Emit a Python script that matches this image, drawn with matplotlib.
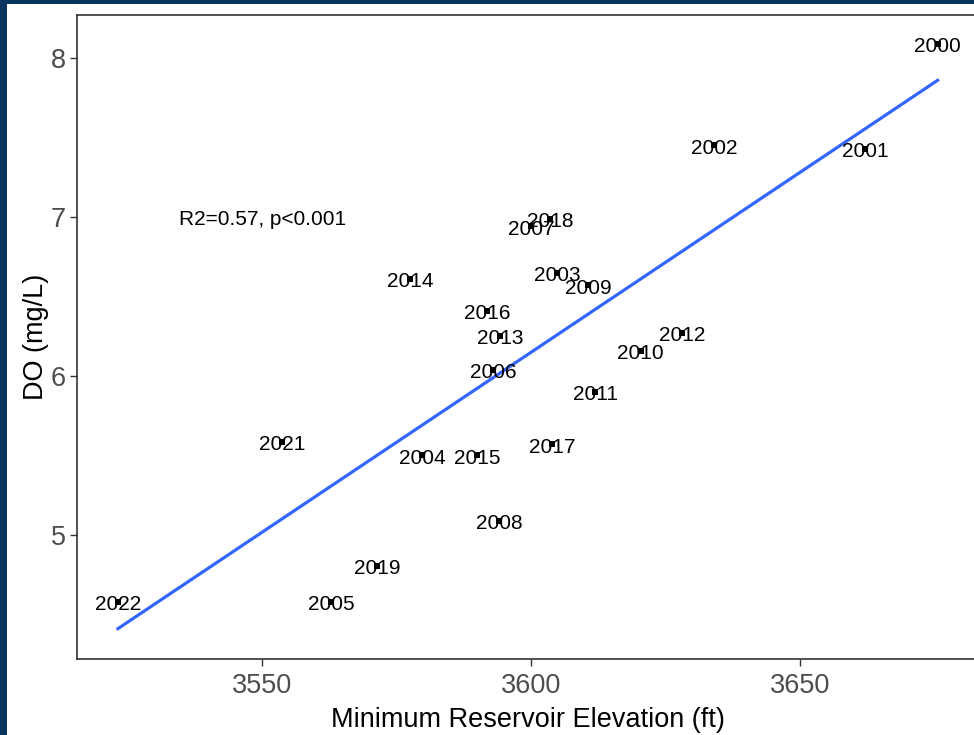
import numpy as np
import matplotlib.pyplot as plt
from matplotlib.patches import Rectangle

plt.rcParams['font.family'] = ['Liberation Sans', 'DejaVu Sans']

years = ['2000', '2001', '2002', '2003', '2004', '2005', '2006', '2007', '2008',
         '2009', '2010', '2011', '2012', '2013', '2014', '2015', '2016', '2017',
         '2018', '2019', '2021', '2022']
elev = [3675.5, 3662.0, 3634.0, 3604.8, 3579.7, 3562.8, 3592.9, 3600.0, 3594.0,
        3610.6, 3620.3, 3611.9, 3628.0, 3594.2, 3577.5, 3590.0, 3591.8, 3603.9,
        3603.5, 3571.4, 3553.7, 3523.2]
do = [8.09, 7.43, 7.45, 6.65, 5.50, 4.58, 6.04, 6.94, 5.09,
      6.57, 6.16, 5.90, 6.27, 6.25, 6.61, 5.50, 6.41, 5.57,
      6.99, 4.805, 5.585, 4.58]

W, H = 974, 735
fig = plt.figure(figsize=(W / 100, H / 100), dpi=100, facecolor='#08345e')
# white canvas inside the dark frame
fig.patches.append(Rectangle((7 / W, 0), 1, (H - 4) / H, transform=fig.transFigure,
                             facecolor='white', edgecolor='none', zorder=-10))

ax = fig.add_axes([77 / W, (H - 659) / H, 901 / W, 644 / H])
ax.set_facecolor('white')

x = np.array(elev)
y = np.array(do)

# linear fit over data range
b, a = np.polyfit(x, y, 1)
xs = np.linspace(x.min(), x.max(), 100)
ax.plot(xs, a + b * xs, color='#3366FF', lw=2.3, zorder=2)

ax.scatter(x, y, s=18, marker='s', color='black', linewidths=0, zorder=3)
for yr, xi, yi in zip(years, x, y):
    ax.annotate(yr, (xi, yi), xytext=(0, -2), textcoords='offset points',
                ha='center', va='center', fontsize=15, color='black', zorder=4)

ax.annotate('R2=0.57, p<0.001', (3550, 7.0), xytext=(0, -2), textcoords='offset points',
            ha='center', va='center', fontsize=15)

ax.set_xlim(3515.6, 3683)
ax.set_ylim(4.22, 8.27)
ax.set_xticks([3550, 3600, 3650])
ax.set_yticks([5, 6, 7, 8])

for s in ax.spines.values():
    s.set_color('#333333')
    s.set_linewidth(1.2)
ax.tick_params(colors='#333333', labelcolor='#4D4D4D', labelsize=19.5,
               length=5, width=1.0, pad=3)
ax.tick_params(axis='x', pad=5)

ax.set_xlabel('Minimum Reservoir Elevation (ft)', fontsize=19.5, labelpad=6)
ax.set_ylabel('DO (mg/L)', fontsize=19.5, labelpad=1.5)

fig.savefig('out.png', dpi=100, facecolor=fig.get_facecolor())
